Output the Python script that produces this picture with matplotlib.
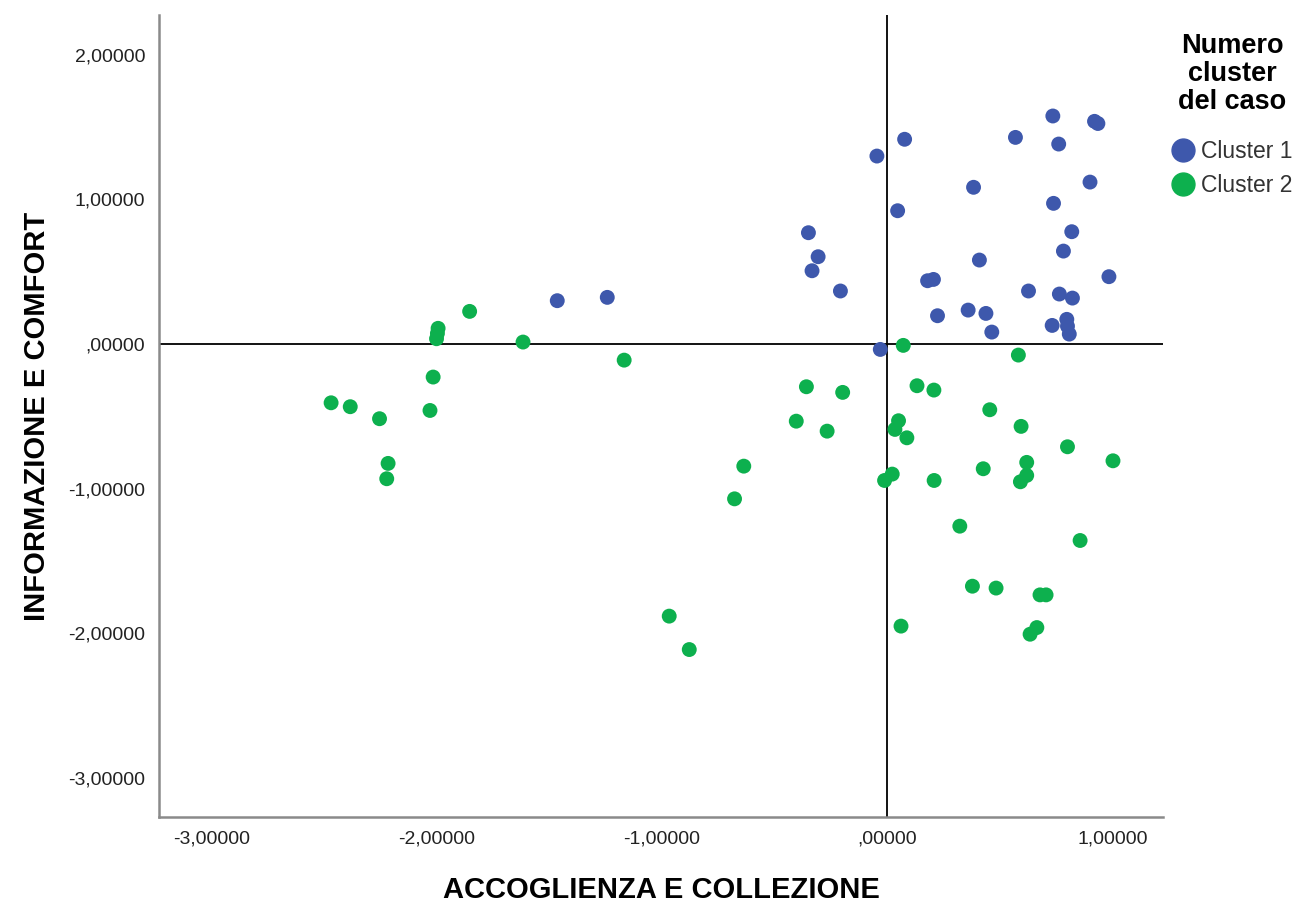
import numpy as np
import matplotlib
matplotlib.use('Agg')
import matplotlib.pyplot as plt
from matplotlib.lines import Line2D
from matplotlib.ticker import FuncFormatter

plt.rcParams['font.family'] = ['Liberation Sans', 'DejaVu Sans']

# cluster 1 (blue)
c1_x = [0.735, 0.920, 0.935, 0.569, 0.761, 0.077, -0.046, 0.900, 0.383, 0.738,
        0.046, 0.819, -0.350, 0.782, -0.307, 0.409, -0.334, 0.984, 0.179, 0.205,
        -0.208, 0.627, 0.764, 0.822, 0.223, 0.359, 0.438, 0.464, 0.732, 0.797,
        0.800, 0.808, -0.031, -1.465, -1.243]
c1_y = [1.577, 1.540, 1.525, 1.429, 1.383, 1.416, 1.300, 1.120, 1.084, 0.973,
        0.922, 0.777, 0.770, 0.643, 0.604, 0.581, 0.507, 0.466, 0.438, 0.447,
        0.367, 0.367, 0.346, 0.318, 0.196, 0.235, 0.212, 0.083, 0.129, 0.171,
        0.124, 0.069, -0.037, 0.300, 0.323]

# cluster 2 (green)
c2_x = [0.071, 0.582, -0.359, -0.198, 0.132, 0.207, -0.404, -0.267, 0.050, 0.034,
        0.087, 0.455, 0.594, 0.800, 1.002, 0.619, 0.426, 0.619, 0.591, 0.022,
        -0.012, 0.208, 0.322, 0.856, 0.378, 0.483, 0.678, 0.705, 0.061, 0.664,
        0.634, -1.168, -0.637, -0.678, -0.968, -0.879, -1.854, -1.994, -1.997,
        -2.001, -1.617, -2.016, -2.469, -2.384, -2.254, -2.030, -2.216, -2.222]
c2_y = [-0.009, -0.076, -0.295, -0.334, -0.288, -0.318, -0.533, -0.602, -0.530, -0.590,
        -0.648, -0.454, -0.569, -0.710, -0.807, -0.818, -0.862, -0.908, -0.952, -0.899,
        -0.943, -0.943, -1.259, -1.358, -1.674, -1.687, -1.734, -1.734, -1.950, -1.960,
        -2.006, -0.111, -0.844, -1.070, -1.881, -2.112, 0.226, 0.109, 0.074,
        0.037, 0.014, -0.228, -0.406, -0.433, -0.516, -0.459, -0.825, -0.931]

ticks_x = [-3, -2, -1, 0, 1]
ticks_y = [-3, -2, -1, 0, 1, 2]
blue = '#3E58AC'
green = '#0DB04E'


def fmt(v, pos):
    s = '%.5f' % v
    s = s.replace('.', ',')
    if s.startswith('0,'):
        s = s[1:]
    if s.startswith('-0,'):
        s = s[2:]
    return s


fig = plt.figure(figsize=(12.99, 9.06), dpi=100)
ax = fig.add_axes([0.1224, 0.0982, 0.7729, 0.8852])

ax.axvline(0, color='black', lw=1.3, zorder=1)
ax.axhline(0, color='black', lw=1.3, zorder=1)
ax.scatter(c1_x, c1_y, s=115, color=blue, edgecolors='none', zorder=3)
ax.scatter(c2_x, c2_y, s=115, color=green, edgecolors='none', zorder=3)

ax.set_xlim(-3.233, 1.224)
ax.set_ylim(-3.27, 2.275)
ax.set_xticks(ticks_x)
ax.set_yticks(ticks_y)
ax.xaxis.set_major_formatter(FuncFormatter(fmt))
ax.yaxis.set_major_formatter(FuncFormatter(fmt))
ax.tick_params(length=0, labelsize=14, colors='#222222', pad=10)

for side in ['top', 'right']:
    ax.spines[side].set_visible(False)
for side in ['left', 'bottom']:
    ax.spines[side].set_color('#8a8a8a')
    ax.spines[side].set_linewidth(1.8)

ax.set_xlabel('ACCOGLIENZA E COLLEZIONE', fontsize=21, fontweight='bold', labelpad=20)
ax.set_ylabel('INFORMAZIONE E COMFORT', fontsize=21, fontweight='bold', labelpad=12)

# legend title and entries
fig.text(0.9484, 0.964, 'Numero\ncluster\ndel caso', ha='center', va='top',
         fontsize=19.5, fontweight='bold', linespacing=1.1)
handles = [Line2D([], [], marker='o', linestyle='', markersize=16.5, color=blue),
           Line2D([], [], marker='o', linestyle='', markersize=16.5, color=green)]
leg = fig.legend(handles, ['Cluster 1', 'Cluster 2'],
                 loc='upper left', bbox_to_anchor=(0.9035, 0.846), frameon=False,
                 fontsize=16.5, handlelength=0.8, handletextpad=0.4, labelspacing=0.5,
                 borderpad=0, borderaxespad=0)
for t in leg.get_texts():
    t.set_color('#333333')

fig.savefig('out.png', dpi=100)
